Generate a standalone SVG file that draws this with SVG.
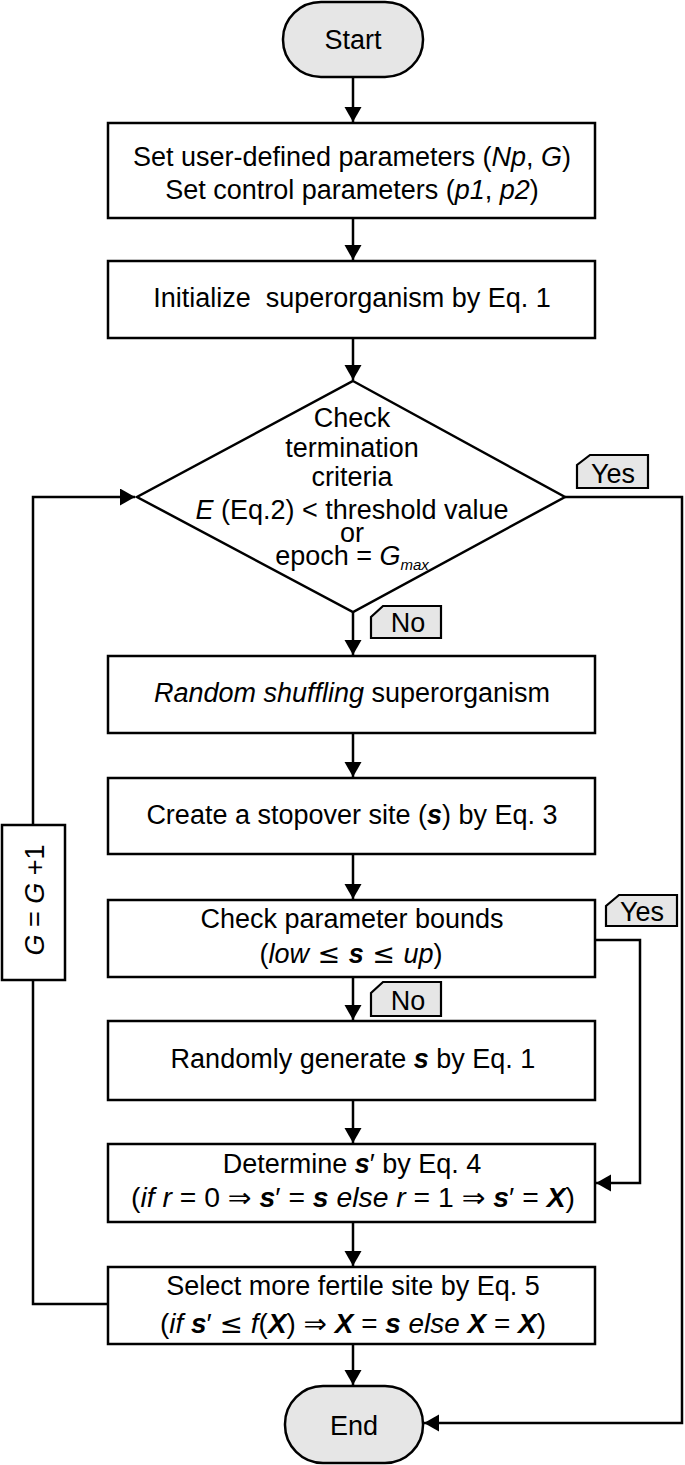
<svg xmlns="http://www.w3.org/2000/svg" width="685" height="1465" viewBox="0 0 685 1465">
<style>
text{font-family:"Liberation Sans",Arial,Helvetica,sans-serif;font-size:27px;fill:#000;text-anchor:middle}
.box{fill:#fff;stroke:#000;stroke-width:2.5}
.term{fill:#e6e6e6;stroke:#000;stroke-width:2.5}
.tag{fill:#e6e6e6;stroke:#000;stroke-width:2.2}
.ln{fill:none;stroke:#000;stroke-width:2.5}
.i{font-style:italic}
.bi{font-style:italic;font-weight:bold}
.sym{font-family:"DejaVu Sans","Liberation Sans",sans-serif}
</style>
<defs>
<marker id="arr" markerUnits="userSpaceOnUse" markerWidth="17" markerHeight="18" refX="15" refY="8.5" orient="auto">
<path d="M0,0 L15,8.5 L0,17 z" fill="#000"/>
</marker>
</defs>
<rect width="685" height="1465" fill="#fff"/>

<g id="connectors">
<line class="ln" x1="353" y1="77" x2="353" y2="122" marker-end="url(#arr)"/>
<line class="ln" x1="353" y1="218" x2="353" y2="260" marker-end="url(#arr)"/>
<line class="ln" x1="353" y1="338" x2="353" y2="380" marker-end="url(#arr)"/>
<line class="ln" x1="353" y1="612" x2="353" y2="655" marker-end="url(#arr)"/>
<line class="ln" x1="353" y1="733" x2="353" y2="777" marker-end="url(#arr)"/>
<line class="ln" x1="353" y1="854" x2="353" y2="899" marker-end="url(#arr)"/>
<line class="ln" x1="353" y1="977" x2="353" y2="1020" marker-end="url(#arr)"/>
<line class="ln" x1="353" y1="1100" x2="353" y2="1143" marker-end="url(#arr)"/>
<line class="ln" x1="353" y1="1222" x2="353" y2="1266" marker-end="url(#arr)"/>
<line class="ln" x1="353" y1="1344" x2="353" y2="1385" marker-end="url(#arr)"/>
<polyline class="ln" points="565,497 682,497 682,1423 424,1423" marker-end="url(#arr)"/>
<polyline class="ln" points="595,940 640,940 640,1183 596,1183" marker-end="url(#arr)"/>
<polyline class="ln" points="108,1304 33,1304 33,980"/>
<polyline class="ln" points="33,825 33,497 135,497" marker-end="url(#arr)"/>
</g>

<g id="start">
<rect class="term" x="283" y="2" width="140" height="75" rx="38" ry="37"/>
<text x="353" y="49">Start</text>
</g>

<g id="set-params">
<rect class="box" x="108" y="123" width="487" height="95"/>
<text x="352" y="166">Set user-defined parameters (<tspan class="i">Np</tspan>, <tspan class="i">G</tspan>)</text>
<text x="352" y="199">Set control parameters (<tspan class="i">p1</tspan>, <tspan class="i">p2</tspan>)</text>
</g>

<g id="initialize">
<rect class="box" x="108" y="261" width="487" height="77"/>
<text x="352" y="307" xml:space="preserve">Initialize  superorganism by Eq. 1</text>
</g>

<g id="check-termination">
<polygon class="box" points="353,381 565,497 353,612 137,497"/>
<text x="352" y="427">Check</text>
<text x="352" y="457">termination</text>
<text x="352" y="486">criteria</text>
<text x="352" y="519"><tspan class="i">E</tspan> (Eq.2) &lt; threshold value</text>
<text x="352" y="542">or</text>
<text x="352" y="565">epoch = <tspan class="i">G</tspan><tspan class="i" style="font-size:15px" dy="5">max</tspan></text>
</g>

<g id="yes-tag-1">
<path class="tag" d="M590,455 L648,455 L648,488 L577,488 L577,465 Z"/>
<text x="613" y="483">Yes</text>
</g>

<g id="no-tag-1">
<path class="tag" d="M383,606 L441,606 L441,638 L371,638 L371,617 Z"/>
<text x="408" y="632">No</text>
</g>

<g id="shuffle">
<rect class="box" x="108" y="656" width="487" height="77"/>
<text x="352" y="702"><tspan class="i">Random shuffling</tspan> superorganism</text>
</g>

<g id="stopover">
<rect class="box" x="108" y="778" width="487" height="76"/>
<text x="352" y="824">Create a stopover site (<tspan class="bi">s</tspan>) by Eq. 3</text>
</g>

<g id="check-bounds">
<rect class="box" x="108" y="900" width="487" height="77"/>
<text x="352" y="928">Check parameter bounds</text>
<text x="351" y="963">(<tspan class="i">low</tspan><tspan class="sym"> ≤ </tspan><tspan class="bi">s</tspan><tspan class="sym"> ≤ </tspan><tspan class="i">up</tspan>)</text>
</g>

<g id="yes-tag-2">
<path class="tag" d="M619,895 L677,895 L677,926 L606,926 L606,906 Z"/>
<text x="642" y="921">Yes</text>
</g>

<g id="no-tag-2">
<path class="tag" d="M383,982 L441,982 L441,1016 L371,1016 L371,993 Z"/>
<text x="408" y="1010">No</text>
</g>

<g id="random-generate">
<rect class="box" x="108" y="1021" width="487" height="79"/>
<text x="353" y="1068">Randomly generate <tspan class="bi">s</tspan> by Eq. 1</text>
</g>

<g id="determine">
<rect class="box" x="108" y="1144" width="487" height="78"/>
<text x="352" y="1173">Determine <tspan class="bi">s</tspan>′ by Eq. 4</text>
<text x="353" y="1207" textLength="444" lengthAdjust="spacingAndGlyphs">(<tspan class="i">if r</tspan> = 0 <tspan class="sym">⇒</tspan> <tspan class="bi">s</tspan>′ = <tspan class="bi">s</tspan> <tspan class="i">else r</tspan> = 1 <tspan class="sym">⇒</tspan> <tspan class="bi">s</tspan>′ = <tspan class="bi">X</tspan>)</text>
</g>

<g id="select">
<rect class="box" x="108" y="1267" width="487" height="77"/>
<text x="353" y="1295">Select more fertile site by Eq. 5</text>
<text x="353" y="1333" textLength="386" lengthAdjust="spacingAndGlyphs">(<tspan class="i">if </tspan><tspan class="bi">s</tspan>′ <tspan class="sym">≤</tspan> <tspan class="i">f</tspan>(<tspan class="bi">X</tspan>) <tspan class="sym">⇒</tspan> <tspan class="bi">X</tspan> = <tspan class="bi">s</tspan> <tspan class="i">else </tspan><tspan class="bi">X</tspan> = <tspan class="bi">X</tspan>)</text>
</g>

<g id="increment">
<rect class="box" x="2" y="825" width="63" height="155"/>
<text transform="translate(44,900) rotate(-90)" x="0" y="0"><tspan class="i">G</tspan> = <tspan class="i">G</tspan> +1</text>
</g>

<g id="end">
<rect class="term" x="285" y="1386" width="138" height="77" rx="38" ry="38"/>
<text x="354" y="1435">End</text>
</g>
</svg>
